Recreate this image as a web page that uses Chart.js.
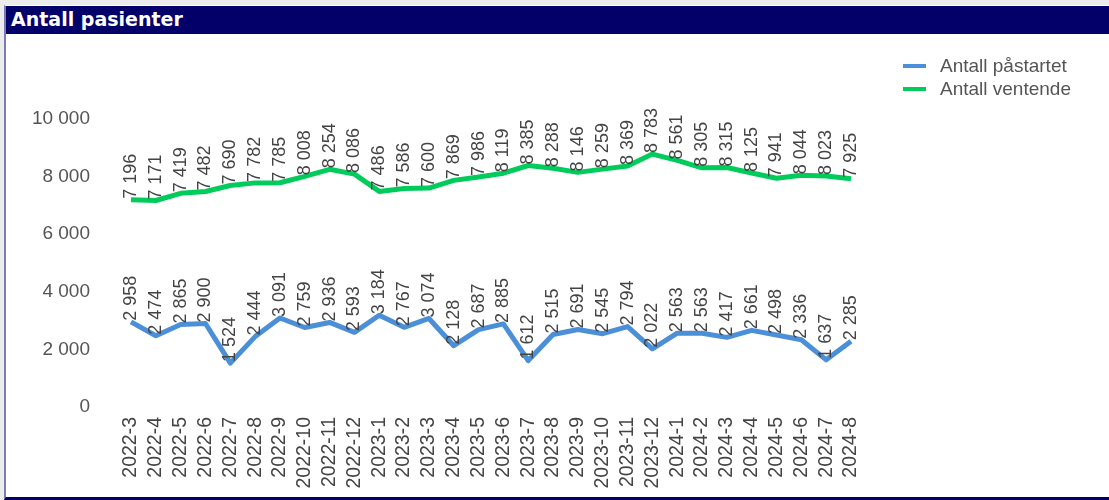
<!DOCTYPE html>
<html>
<head>
<meta charset="utf-8">
<script src="https://cdn.jsdelivr.net/npm/chart.js@4.4.1/dist/chart.umd.min.js"></script>
<style>
  body { margin: 0; background: #ececec; font-family: "Liberation Sans", Arial, sans-serif; }
  #frame {
    position: absolute; left: 4px; top: 5px; width: 1103px; height: 491px;
    background: #fff; border-left: 2px solid #7b7bb9; border-bottom: 3px solid #000066;
    border-top: 1px solid #fff;
  }
  #title {
    height: 28px; background: #03006a; color: #fff;
    font-family: "DejaVu Sans", Verdana, sans-serif; font-weight: bold; font-size: 19px;
    line-height: 27px; padding-left: 5px;
  }
  #chart { position: absolute; left: 1px; top: 29px; }
</style>
</head>
<body>
<div id="frame">
  <div id="title">Antall pasienter</div>
  <canvas id="chart" width="1099" height="460"></canvas>
</div>
<script>
const months = ['2022-3','2022-4','2022-5','2022-6','2022-7','2022-8','2022-9','2022-10','2022-11','2022-12',
  '2023-1','2023-2','2023-3','2023-4','2023-5','2023-6','2023-7','2023-8','2023-9','2023-10','2023-11','2023-12',
  '2024-1','2024-2','2024-3','2024-4','2024-5','2024-6','2024-7','2024-8'];

const pastartet = [2958, 2474, 2865, 2900, 1524, 2444, 3091, 2759, 2936, 2593,
  3184, 2767, 3074, 2128, 2687, 2885, 1612, 2515, 2691, 2545, 2794, 2022,
  2563, 2563, 2417, 2661, 2498, 2336, 1637, 2285];

const ventende = [7196, 7171, 7419, 7482, 7690, 7782, 7785, 8008, 8254, 8086,
  7486, 7586, 7600, 7869, 7986, 8119, 8385, 8288, 8146, 8259, 8369, 8783,
  8561, 8305, 8315, 8125, 7941, 8044, 8023, 7925];

const yTicks = [0, 2000, 4000, 6000, 8000, 10000];

const fmt = v => String(v).replace(/\B(?=(\d{3})+(?!\d))/g, ' ');

// rotated value labels on each point
const valueLabels = {
  id: 'valueLabels',
  afterDatasetsDraw(chart) {
    const ctx = chart.ctx;
    ctx.save();
    ctx.font = '18px "Liberation Sans", Arial, sans-serif';
    ctx.fillStyle = '#444';
    ctx.textAlign = 'left';
    ctx.textBaseline = 'middle';
    chart.data.datasets.forEach((ds, i) => {
      chart.getDatasetMeta(i).data.forEach((pt, j) => {
        ctx.save();
        ctx.translate(pt.x, pt.y - 1);
        ctx.rotate(-Math.PI / 2);
        ctx.fillText(fmt(ds.data[j]), 0, 0);
        ctx.restore();
      });
    });
    ctx.restore();
  }
};

// legend in the top right corner
const sideLegend = {
  id: 'sideLegend',
  afterDraw(chart) {
    const ctx = chart.ctx;
    ctx.save();
    ctx.font = '19px "Liberation Sans", Arial, sans-serif';
    ctx.textBaseline = 'middle';
    chart.data.datasets.forEach((ds, i) => {
      const y = 31 + i * 23;
      ctx.strokeStyle = ds.borderColor;
      ctx.lineWidth = 4;
      ctx.beginPath();
      ctx.moveTo(896, y);
      ctx.lineTo(919, y);
      ctx.stroke();
      ctx.fillStyle = '#555';
      ctx.fillText(ds.label, 933, y + 1);
    });
    ctx.restore();
  }
};

new Chart(document.getElementById('chart'), {
  type: 'line',
  data: {
    labels: months,
    datasets: [
      { label: 'Antall påstartet', data: pastartet, borderColor: '#4a8fd8', borderWidth: 5, pointRadius: 0, tension: 0, borderJoinStyle: 'round' },
      { label: 'Antall ventende', data: ventende, borderColor: '#00cc5c', borderWidth: 5, pointRadius: 0, tension: 0, borderJoinStyle: 'round' }
    ]
  },
  options: {
    responsive: false,
    animation: false,
    layout: { padding: { top: 84, right: 255, bottom: 0, left: 0 } },
    plugins: { legend: { display: false }, tooltip: { enabled: false } },
    scales: {
      x: {
        afterFit(scale) { scale.height = 88; },
        grid: { display: false, drawTicks: false },
        border: { display: false },
        ticks: {
          maxRotation: 90, minRotation: 90, autoSkip: false, padding: 10,
          color: '#444', font: { size: 19.5, family: '"Liberation Sans", Arial, sans-serif' }
        }
      },
      y: {
        min: 0, max: 10000,
        afterFit(scale) { scale.width = 124; },
        afterBuildTicks(scale) { scale.ticks = yTicks.map(v => ({ value: v })); },
        grid: { display: false, drawTicks: false },
        border: { display: false },
        ticks: {
          padding: 41, color: '#555',
          font: { size: 19, family: '"Liberation Sans", Arial, sans-serif' },
          callback: v => fmt(v)
        }
      }
    }
  },
  plugins: [valueLabels, sideLegend]
});
</script>
</body>
</html>
